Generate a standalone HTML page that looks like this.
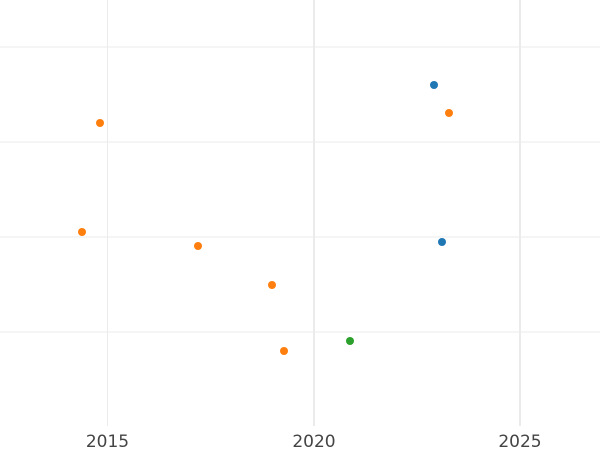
<!DOCTYPE html>
<html><head><style>body{margin:0;background:#fff}</style></head><body>
<svg width="600" height="450" xmlns="http://www.w3.org/2000/svg" style="display:block">
<g stroke="#ebebeb">
<line x1="0" x2="600" y1="47" y2="47"/>
<line x1="0" x2="600" y1="142" y2="142"/>
<line x1="0" x2="600" y1="237" y2="237"/>
<line x1="0" x2="600" y1="332" y2="332"/>
<line x1="107.5" x2="107.5" y1="0" y2="426"/>
<line x1="314" x2="314" y1="0" y2="426" stroke-width="2"/>
<line x1="520" x2="520" y1="0" y2="426" stroke-width="2"/>
</g>
<g fill="#1f77b4"><circle cx="434" cy="85" r="4"/><circle cx="442" cy="242" r="4"/></g>
<g fill="#ff7f0e"><circle cx="100" cy="123" r="4"/><circle cx="449" cy="113" r="4"/><circle cx="82" cy="232" r="4"/><circle cx="198" cy="246" r="4"/><circle cx="272" cy="285" r="4"/><circle cx="284" cy="351" r="4"/></g>
<circle cx="350" cy="341" r="4" fill="#2ca02c"/>
<g font-family="DejaVu Sans, sans-serif" font-size="17" fill="#444" text-anchor="middle">
<text x="107.5" y="447">2015</text><text x="314" y="447">2020</text><text x="520" y="447">2025</text>
</g>
</svg>
</body></html>
